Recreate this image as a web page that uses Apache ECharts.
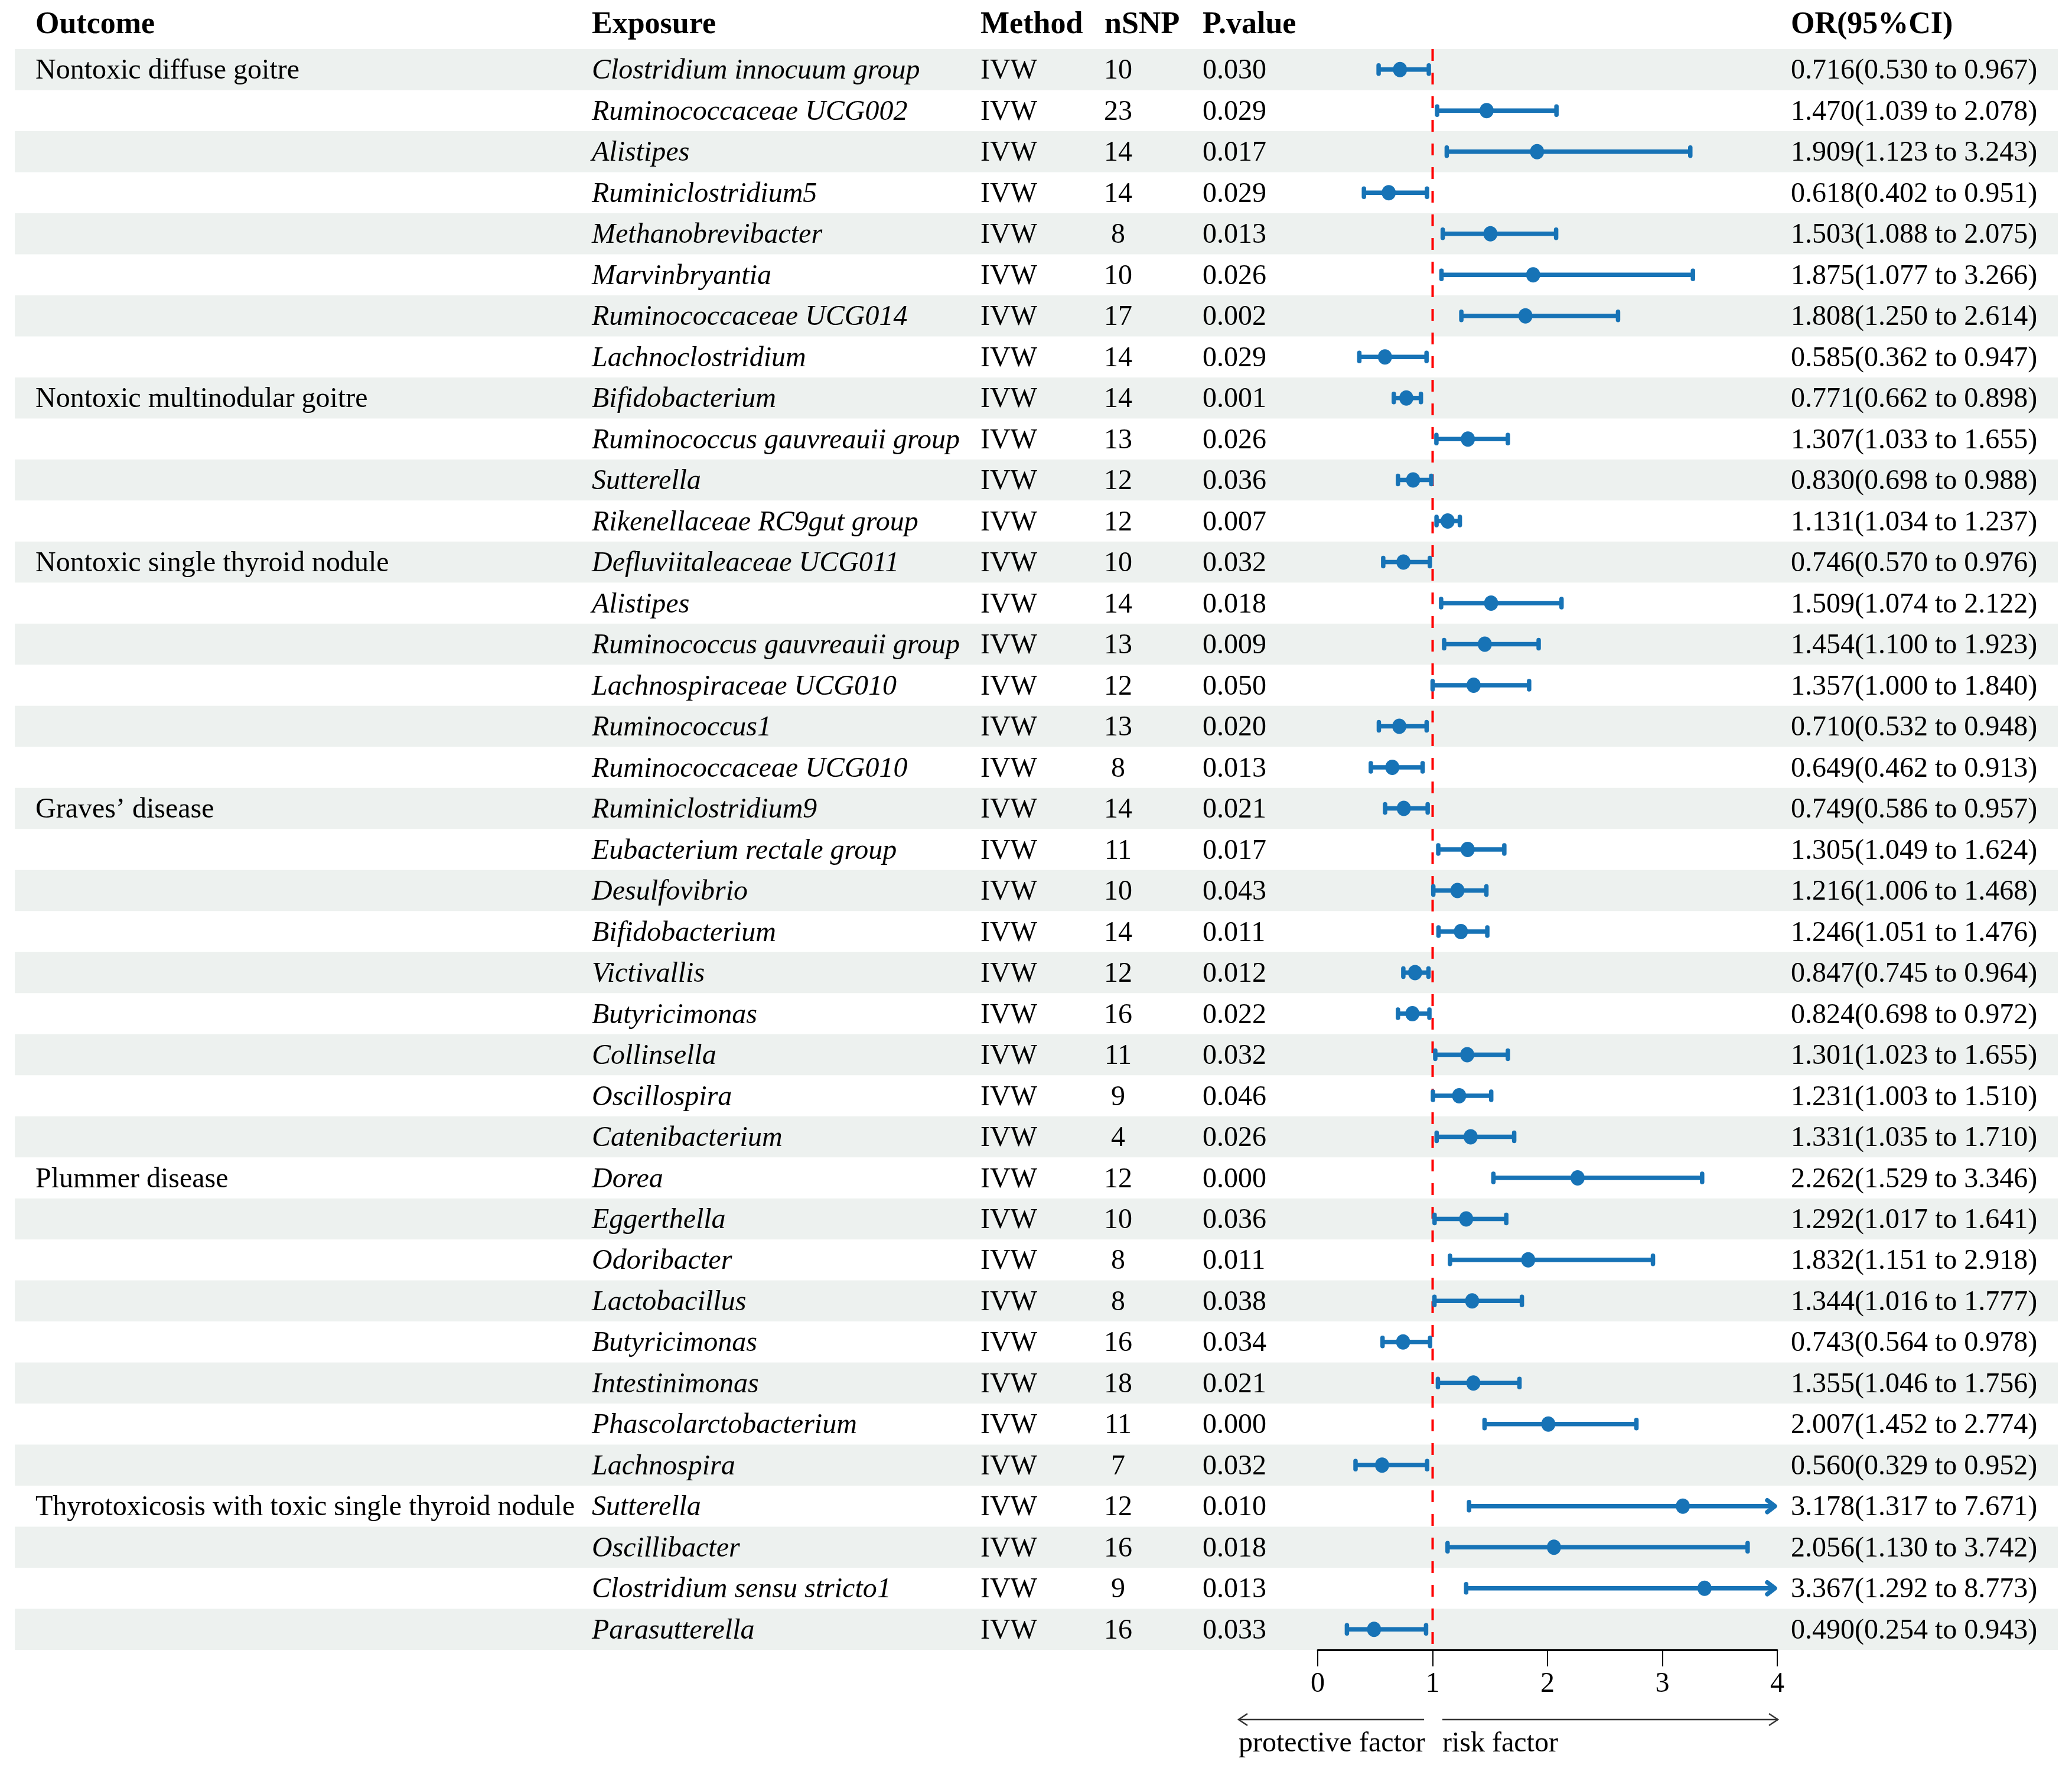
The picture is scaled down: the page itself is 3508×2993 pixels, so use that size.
<!DOCTYPE html>
<html><head><meta charset="utf-8">
<script src="https://cdn.jsdelivr.net/npm/echarts@6.0.0/dist/echarts.min.js"></script>
<style>html,body{margin:0;padding:0;background:#fff}#c{width:3508px;height:2993px}</style>
</head><body><div id="c"></div>
<script>
// ---------------- data ----------------
const outcomes = [
  'Nontoxic diffuse goitre','','','','','','','',
  'Nontoxic multinodular goitre','','','',
  'Nontoxic single thyroid nodule','','','','','',
  'Graves\u2019 disease','','','','','','','','',
  'Plummer disease','','','','','','','',
  'Thyrotoxicosis with toxic single thyroid nodule','','',''
];
const exposures = [
  'Clostridium innocuum group','Ruminococcaceae UCG002','Alistipes','Ruminiclostridium5','Methanobrevibacter','Marvinbryantia','Ruminococcaceae UCG014','Lachnoclostridium',
  'Bifidobacterium','Ruminococcus gauvreauii group','Sutterella','Rikenellaceae RC9gut group',
  'Defluviitaleaceae UCG011','Alistipes','Ruminococcus gauvreauii group','Lachnospiraceae UCG010','Ruminococcus1','Ruminococcaceae UCG010',
  'Ruminiclostridium9','Eubacterium rectale group','Desulfovibrio','Bifidobacterium','Victivallis','Butyricimonas','Collinsella','Oscillospira','Catenibacterium',
  'Dorea','Eggerthella','Odoribacter','Lactobacillus','Butyricimonas','Intestinimonas','Phascolarctobacterium','Lachnospira',
  'Sutterella','Oscillibacter','Clostridium sensu stricto1','Parasutterella'
];
const methods = exposures.map(() => 'IVW');
const nsnp = [10,23,14,14,8,10,17,14, 14,13,12,12, 10,14,13,12,13,8, 14,11,10,14,12,16,11,9,4, 12,10,8,8,16,18,11,7, 12,16,9,16];
const pvalues = ['0.030','0.029','0.017','0.029','0.013','0.026','0.002','0.029',
  '0.001','0.026','0.036','0.007',
  '0.032','0.018','0.009','0.050','0.020','0.013',
  '0.021','0.017','0.043','0.011','0.012','0.022','0.032','0.046','0.026',
  '0.000','0.036','0.011','0.038','0.034','0.021','0.000','0.032',
  '0.010','0.018','0.013','0.033'];
const orValues = [0.716,1.470,1.909,0.618,1.503,1.875,1.808,0.585,
  0.771,1.307,0.830,1.131,
  0.746,1.509,1.454,1.357,0.710,0.649,
  0.749,1.305,1.216,1.246,0.847,0.824,1.301,1.231,1.331,
  2.262,1.292,1.832,1.344,0.743,1.355,2.007,0.560,
  3.178,2.056,3.367,0.490];
const ciLower = [0.530,1.039,1.123,0.402,1.088,1.077,1.250,0.362,
  0.662,1.033,0.698,1.034,
  0.570,1.074,1.100,1.000,0.532,0.462,
  0.586,1.049,1.006,1.051,0.745,0.698,1.023,1.003,1.035,
  1.529,1.017,1.151,1.016,0.564,1.046,1.452,0.329,
  1.317,1.130,1.292,0.254];
const ciUpper = [0.967,2.078,3.243,0.951,2.075,3.266,2.614,0.947,
  0.898,1.655,0.988,1.237,
  0.976,2.122,1.923,1.840,0.948,0.913,
  0.957,1.624,1.468,1.476,0.964,0.972,1.655,1.510,1.710,
  3.346,1.641,2.918,1.777,0.978,1.756,2.774,0.952,
  7.671,3.742,8.773,0.943];
const xTicks = [0, 1, 2, 3, 4];
const refValue = 1;
const headers = ['Outcome','Exposure','Method','nSNP','P.value','OR(95%CI)'];
const sideLabels = ['protective factor','risk factor'];

// ---------------- styling / layout ----------------
const FONT = '"Liberation Serif", "Times New Roman", serif';
const BLUE = '#1773B6';
const STRIPE = '#EDF1EF';
const xMin = xTicks[0], xMax = xTicks[xTicks.length - 1];
const colX = {outcome: 60, exposure: 1002, method: 1660, nsnpHead: 1870, nsnp: 1893, p: 2036, or: 3032};
const headerY = 43;
const textDy = 3;
const rowIdx = exposures.map((_, i) => i);
const fmt = v => v.toFixed(3);
const orText = rowIdx.map(i => fmt(orValues[i]) + '(' + fmt(ciLower[i]) + ' to ' + fmt(ciUpper[i]) + ')');

function txt(text, x, y, opts) {
  opts = opts || {};
  return {
    type: 'text', x: x, y: y, silent: true,
    style: {
      text: text, fill: '#000', fontFamily: FONT,
      fontSize: opts.size || 48, fontWeight: opts.weight || 'normal', fontStyle: opts.style || 'normal',
      align: opts.align || 'left', verticalAlign: 'middle',
      textAlign: opts.align || 'left', textVerticalAlign: 'middle'
    }
  };
}

const headerX = [colX.outcome, colX.exposure, colX.method, colX.nsnpHead, colX.p, colX.or];
const graphics = headers.map((h, k) => txt(h, headerX[k], headerY, {size: 52, weight: 'bold'}));
// direction arrows
const arrowY = 2911, arrowStroke = {stroke: '#333', lineWidth: 2.5, fill: null};
graphics.push(
  {type: 'line', silent: true, shape: {x1: 2097, y1: arrowY, x2: 2411, y2: arrowY}, style: arrowStroke},
  {type: 'polyline', silent: true, shape: {points: [[2112, arrowY - 10], [2097, arrowY], [2112, arrowY + 10]]}, style: arrowStroke},
  {type: 'line', silent: true, shape: {x1: 2442, y1: arrowY, x2: 3010, y2: arrowY}, style: arrowStroke},
  {type: 'polyline', silent: true, shape: {points: [[2995, arrowY - 10], [3010, arrowY], [2995, arrowY + 10]]}, style: arrowStroke},
  txt(sideLabels[0], 2097, 2952),
  txt(sideLabels[1], 2442, 2952)
);

const chart = echarts.init(document.getElementById('c'), null, {renderer: 'canvas', devicePixelRatio: 1});
chart.setOption({
  animation: false,
  backgroundColor: '#fff',
  grid: {left: 2231, width: 778, top: 83, height: 2710, containLabel: false},
  xAxis: {
    type: 'value', min: xMin, max: xMax, interval: 1, position: 'bottom',
    axisLine: {show: true, onZero: false, lineStyle: {color: '#000', width: 3}},
    axisTick: {show: true, inside: false, length: 28, lineStyle: {color: '#000', width: 2}},
    axisLabel: {show: true, margin: 34, color: '#000', fontFamily: FONT, fontSize: 48},
    splitLine: {show: false}
  },
  yAxis: {type: 'category', data: rowIdx, inverse: true, show: false, boundaryGap: true},
  graphic: graphics,
  series: [
    { // zebra stripes
      type: 'custom', name: 'stripes', z: 0, clip: false, silent: true,
      data: rowIdx.map(i => [0, i]), encode: {x: 0, y: 1},
      renderItem: function (params, api) {
        const i = api.value(1);
        if (i % 2 === 1) return null;
        const y = api.coord([0, i])[1];
        const h = api.size([0, 1])[1];
        return {type: 'rect', shape: {x: 25, y: y - h / 2, width: 3459, height: h}, style: {fill: STRIPE}};
      }
    },
    { // table text
      type: 'custom', name: 'table', z: 2, clip: false, silent: true,
      data: rowIdx.map(i => [0, i]), encode: {x: 0, y: 1},
      renderItem: function (params, api) {
        const i = api.value(1);
        const y = api.coord([0, i])[1] + textDy;
        const children = [
          txt(exposures[i], colX.exposure, y, {style: 'italic'}),
          txt(methods[i], colX.method, y),
          txt(String(nsnp[i]), colX.nsnp, y, {align: 'center'}),
          txt(pvalues[i], colX.p, y),
          txt(orText[i], colX.or, y)
        ];
        if (outcomes[i]) children.push(txt(outcomes[i], colX.outcome, y));
        return {type: 'group', children: children};
      }
    },
    { // reference line at OR = 1
      type: 'custom', name: 'ref', z: 3, clip: false, silent: true,
      data: [[refValue, 0]], encode: {x: 0, y: 1},
      renderItem: function (params, api) {
        const x = api.coord([api.value(0), 0])[0];
        const cs = params.coordSys;
        return {type: 'line', shape: {x1: x, y1: cs.y, x2: x, y2: cs.y + cs.height},
          style: {stroke: '#FF0000', lineWidth: 4, lineDash: [20, 20]}};
      }
    },
    { // CI bars and points
      type: 'custom', name: 'OR', z: 4, clip: false,
      data: rowIdx.map(i => [ciLower[i], Math.min(ciUpper[i], xMax), orValues[i], i, ciUpper[i]]),
      encode: {x: [0, 1, 2], y: 3},
      renderItem: function (params, api) {
        const i = api.value(3);
        const pLo = api.coord([api.value(0), i]);
        const pHi = api.coord([api.value(1), i]);
        const pOr = api.coord([api.value(2), i]);
        const y = pLo[1];
        const clipped = api.value(4) > xMax;
        const st = {stroke: BLUE, lineWidth: 7.5, lineCap: 'round', lineJoin: 'round', fill: null};
        const ch = [
          {type: 'line', shape: {x1: pLo[0], y1: y, x2: pHi[0] - (clipped ? 4 : 0), y2: y}, style: {stroke: BLUE, lineWidth: 7.5}},
          {type: 'line', shape: {x1: pLo[0], y1: y - 7, x2: pLo[0], y2: y + 7}, style: st}
        ];
        if (clipped) {
          ch.push({type: 'polyline', shape: {points: [[pHi[0] - 17, y - 10], [pHi[0] - 4, y], [pHi[0] - 17, y + 10]]}, style: st});
        } else {
          ch.push({type: 'line', shape: {x1: pHi[0], y1: y - 7, x2: pHi[0], y2: y + 7}, style: st});
        }
        ch.push({type: 'ellipse', shape: {cx: pOr[0], cy: y, rx: 12, ry: 13}, style: {fill: BLUE}});
        return {type: 'group', children: ch};
      }
    }
  ]
});
</script>
</body></html>
